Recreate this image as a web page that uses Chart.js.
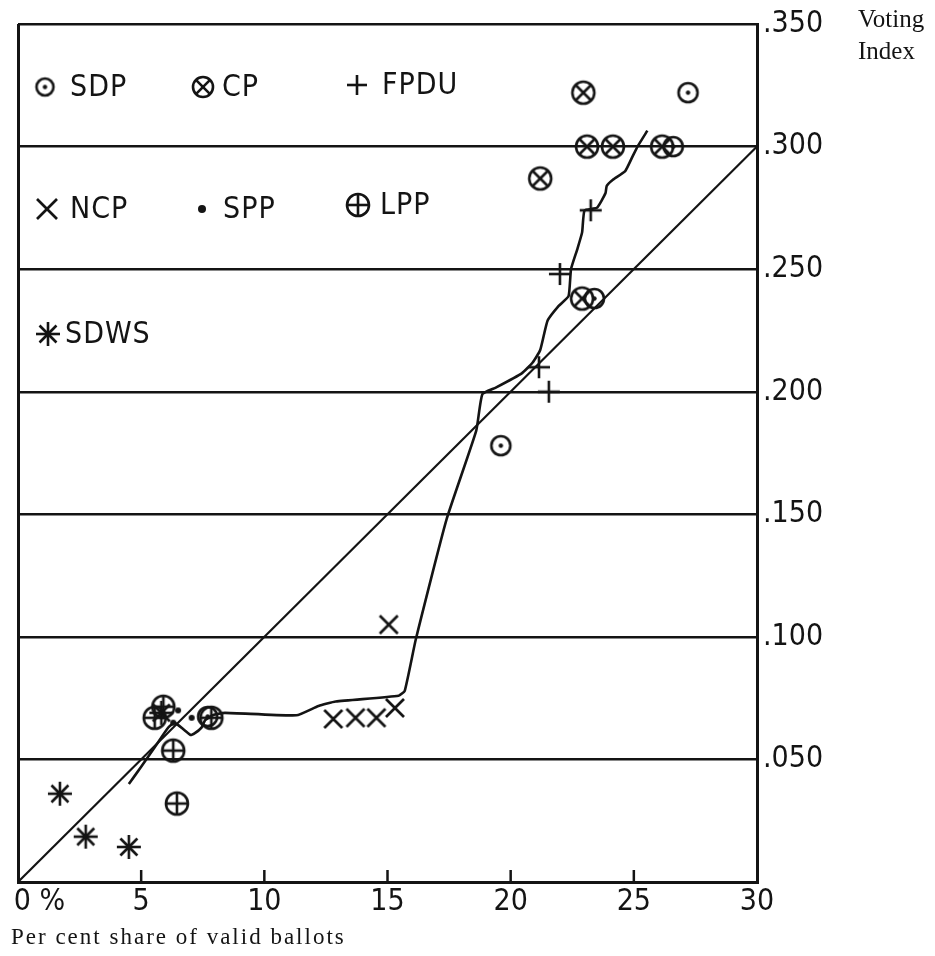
<!DOCTYPE html>
<html>
<head>
<meta charset="utf-8">
<script src="https://cdn.jsdelivr.net/npm/chart.js@4.4.1/dist/chart.umd.min.js"></script>
<style>
  html, body { margin: 0; padding: 0; background: #fff; }
  #wrap { position: relative; width: 935px; height: 956px; }
  #grafico { position: absolute; left: 0; top: 0; }
  .serif { position: absolute; font-family: "Liberation Serif", "DejaVu Serif", serif; color: #141414; white-space: nowrap; }
</style>
</head>
<body>
<div id="wrap">
  <canvas id="grafico" width="935" height="956"></canvas>
  <div class="serif" style="left:858px; top:3px; font-size:25px; line-height:32px;">Voting<br>Index</div>
  <div class="serif" style="left:11px; top:924px; font-size:23px; letter-spacing:2px;">Per cent share of valid ballots</div>
</div>
<script>
// valores: [% dos votos válidos, índice]
const sdp = [[27.2, 0.322], [26.6, 0.300], [23.4, 0.238], [19.6, 0.178], [7.7, 0.0675]];
const cp = [[22.95, 0.322], [23.1, 0.300], [24.15, 0.300], [26.15, 0.300], [21.2, 0.287], [22.9, 0.238]];
const fpdu = [[23.25, 0.274], [22.0, 0.248], [21.15, 0.210], [21.55, 0.200]];
const ncp = [[15.05, 0.105], [12.8, 0.0665], [13.7, 0.067], [14.55, 0.067], [15.3, 0.071]];
const spp = [[6.5, 0.070], [7.05, 0.067], [6.3, 0.065]];
const lpp = [[5.9, 0.0715], [5.55, 0.067], [7.85, 0.067], [6.3, 0.0536], [6.45, 0.032]];
const sdws = [[1.7, 0.036], [2.75, 0.0185], [4.5, 0.0143], [5.82, 0.069]];

// linha de igualdade e curva desenhada à mão
const diagonal = [[0, 0], [30, 0.300]];
const curva = [
  [4.5, 0.040], [5.0, 0.047], [5.55, 0.055], [6.1, 0.063], [6.35, 0.065], [6.75, 0.062],
  [7.0, 0.060], [7.15, 0.0605], [7.45, 0.063], [7.6, 0.066], [7.9, 0.068], [8.4, 0.069],
  [11.3, 0.068], [12.2, 0.0718], [12.9, 0.0736], [15.45, 0.076], [15.7, 0.078], [16.15, 0.099],
  [17.4, 0.148], [18.6, 0.184], [18.85, 0.199], [19.4, 0.2017], [20.45, 0.2075], [20.9, 0.212],
  [21.2, 0.217], [21.5, 0.229], [21.95, 0.235], [22.35, 0.239], [22.45, 0.250], [22.7, 0.258],
  [22.9, 0.265], [23.0, 0.274], [23.5, 0.275], [23.85, 0.281], [23.9, 0.284], [24.15, 0.2865],
  [24.65, 0.290], [24.95, 0.296], [25.15, 0.300], [25.55, 0.3065]
];

const partidos = ["SDP", "CP", "FPDU", "NCP", "SPP", "LPP", "SDWS"];
// o "0" fica centrado no traço e o "%" sobra para a direita
const rotulosX = ["\u2007\u2007 0 %", "5", "10", "15", "20", "25", "30"];
const rotulosY = ["", ".050", ".100", ".150", ".200", ".250", ".300", ".350"];

const tinta = "#141414";
const fonteRotulo = '"Liberation Sans Narrow", "DejaVu Sans Condensed", sans-serif';

// desenha cada símbolo num canvas pequeno, usado como pointStyle
function criaMarcador(tipo, r) {
  const lw = 2.6;
  const s = Math.ceil(2 * r + 2 * lw);
  const c = document.createElement("canvas");
  c.width = s;
  c.height = s;
  const g = c.getContext("2d");
  const m = s / 2;
  g.strokeStyle = tinta;
  g.fillStyle = tinta;
  g.lineWidth = lw;

  function linha(x1, y1, x2, y2) {
    g.beginPath();
    g.moveTo(m + x1, m + y1);
    g.lineTo(m + x2, m + y2);
    g.stroke();
  }
  function circulo() {
    g.beginPath();
    g.arc(m, m, r, 0, Math.PI * 2);
    g.stroke();
  }

  const d = r * 0.7071;
  if (tipo === "circuloPonto") {
    circulo();
    g.beginPath();
    g.arc(m, m, 2.2, 0, Math.PI * 2);
    g.fill();
  } else if (tipo === "circuloXis") {
    circulo();
    linha(-d, -d, d, d);
    linha(-d, d, d, -d);
  } else if (tipo === "circuloMais") {
    circulo();
    linha(-r, 0, r, 0);
    linha(0, -r, 0, r);
  } else if (tipo === "mais") {
    linha(-r, 0, r, 0);
    linha(0, -r, 0, r);
  } else if (tipo === "xis") {
    linha(-r, -r, r, r);
    linha(-r, r, r, -r);
  } else if (tipo === "ponto") {
    g.beginPath();
    g.arc(m, m, r, 0, Math.PI * 2);
    g.fill();
  } else if (tipo === "asterisco") {
    linha(-r, 0, r, 0);
    linha(0, -r, 0, r);
    linha(-d, -d, d, d);
    linha(-d, d, d, -d);
  }
  return c;
}

const simbolos = {
  SDP: criaMarcador("circuloPonto", 9.5),
  CP: criaMarcador("circuloXis", 11),
  FPDU: criaMarcador("mais", 11),
  NCP: criaMarcador("xis", 9),
  SPP: criaMarcador("ponto", 3),
  LPP: criaMarcador("circuloMais", 11),
  SDWS: criaMarcador("asterisco", 12)
};

const simbolosLegenda = {
  SDP: criaMarcador("circuloPonto", 8.5),
  CP: criaMarcador("circuloXis", 10),
  FPDU: criaMarcador("mais", 10),
  NCP: criaMarcador("xis", 10),
  SPP: criaMarcador("ponto", 4),
  LPP: criaMarcador("circuloMais", 11),
  SDWS: criaMarcador("asterisco", 12)
};

// posição da legenda dentro da área do gráfico
const posLegenda = {
  SDP: { dx: 27, dy: 63, texto: 52 },
  CP: { dx: 185, dy: 63, texto: 204 },
  FPDU: { dx: 339, dy: 61, texto: 364 },
  NCP: { dx: 29, dy: 185, texto: 52 },
  SPP: { dx: 184, dy: 185, texto: 205 },
  LPP: { dx: 340, dy: 181, texto: 362 },
  SDWS: { dx: 30, dy: 310, texto: 47 }
};

const legendaManual = {
  id: "legendaManual",
  afterDraw(chart) {
    const { ctx, chartArea } = chart;
    ctx.save();
    ctx.font = "30px " + fonteRotulo;
    ctx.fillStyle = tinta;
    ctx.textBaseline = "middle";
    ctx.letterSpacing = "1px";
    partidos.forEach((nome) => {
      const p = posLegenda[nome];
      const img = simbolosLegenda[nome];
      const x = chartArea.left + p.dx;
      const y = chartArea.top + p.dy;
      ctx.drawImage(img, x - img.width / 2, y - img.height / 2);
      ctx.fillText(nome, chartArea.left + p.texto, y + 1);
    });
    ctx.restore();
  }
};

// pequenos traços do eixo x, voltados para dentro
const marcasX = {
  id: "marcasX",
  afterDatasetsDraw(chart) {
    const { ctx, chartArea, scales } = chart;
    ctx.save();
    ctx.strokeStyle = tinta;
    ctx.lineWidth = 2.5;
    scales.x.ticks.forEach((t) => {
      if (t.value <= scales.x.min || t.value >= scales.x.max) return;
      const px = scales.x.getPixelForValue(t.value);
      ctx.beginPath();
      ctx.moveTo(px, chartArea.bottom);
      ctx.lineTo(px, chartArea.bottom - 12);
      ctx.stroke();
    });
    ctx.restore();
  }
};

function pontos(lista) {
  return lista.map((p) => ({ x: p[0], y: p[1] }));
}

const dadosPartidos = { SDP: sdp, CP: cp, FPDU: fpdu, NCP: ncp, SPP: spp, LPP: lpp, SDWS: sdws };

const datasets = [
  {
    label: "diagonal",
    data: pontos(diagonal),
    showLine: true,
    borderColor: tinta,
    borderWidth: 2.2,
    pointRadius: 0
  },
  {
    label: "curva",
    data: pontos(curva),
    showLine: true,
    borderColor: tinta,
    borderWidth: 2.6,
    pointRadius: 0,
    tension: 0.15
  }
];

partidos.forEach((nome) => {
  datasets.push({
    label: nome,
    data: pontos(dadosPartidos[nome]),
    pointStyle: simbolos[nome],
    pointRadius: 5,
    showLine: false
  });
});

const grafico = document.getElementById("grafico");

const chart = new Chart(grafico, {
  type: "scatter",
  data: { datasets: datasets },
  options: {
    responsive: false,
    animation: false,
    layout: { padding: { left: 18, top: 22, right: 0, bottom: 0 } },
    plugins: {
      legend: { display: false },
      tooltip: { enabled: false }
    },
    scales: {
      x: {
        type: "linear",
        min: 0,
        max: 30,
        afterFit: (s) => {
          s.height = 74;
          s.paddingLeft = 0;
          s.paddingRight = 0;
        },
        ticks: {
          stepSize: 5,
          padding: 2,
          color: tinta,
          maxRotation: 0,
          autoSkip: false,
          font: { family: fonteRotulo, size: 30 },
          callback: (v, i) => rotulosX[i]
        },
        grid: {
          drawTicks: false,
          lineWidth: 3,
          color: (c) => (c.tick && c.tick.value === 0 ? tinta : "rgba(0,0,0,0)")
        },
        border: { color: tinta, width: 3 }
      },
      y: {
        position: "right",
        min: 0,
        max: 0.35,
        afterFit: (s) => { s.width = 178; },
        ticks: {
          stepSize: 0.05,
          padding: 6,
          color: tinta,
          font: { family: fonteRotulo, size: 30 },
          callback: (v, i) => rotulosY[i]
        },
        grid: { drawTicks: false, lineWidth: 2.4, color: tinta },
        border: { color: tinta, width: 3 }
      }
    }
  },
  plugins: [marcasX, legendaManual]
});
</script>
</body>
</html>
